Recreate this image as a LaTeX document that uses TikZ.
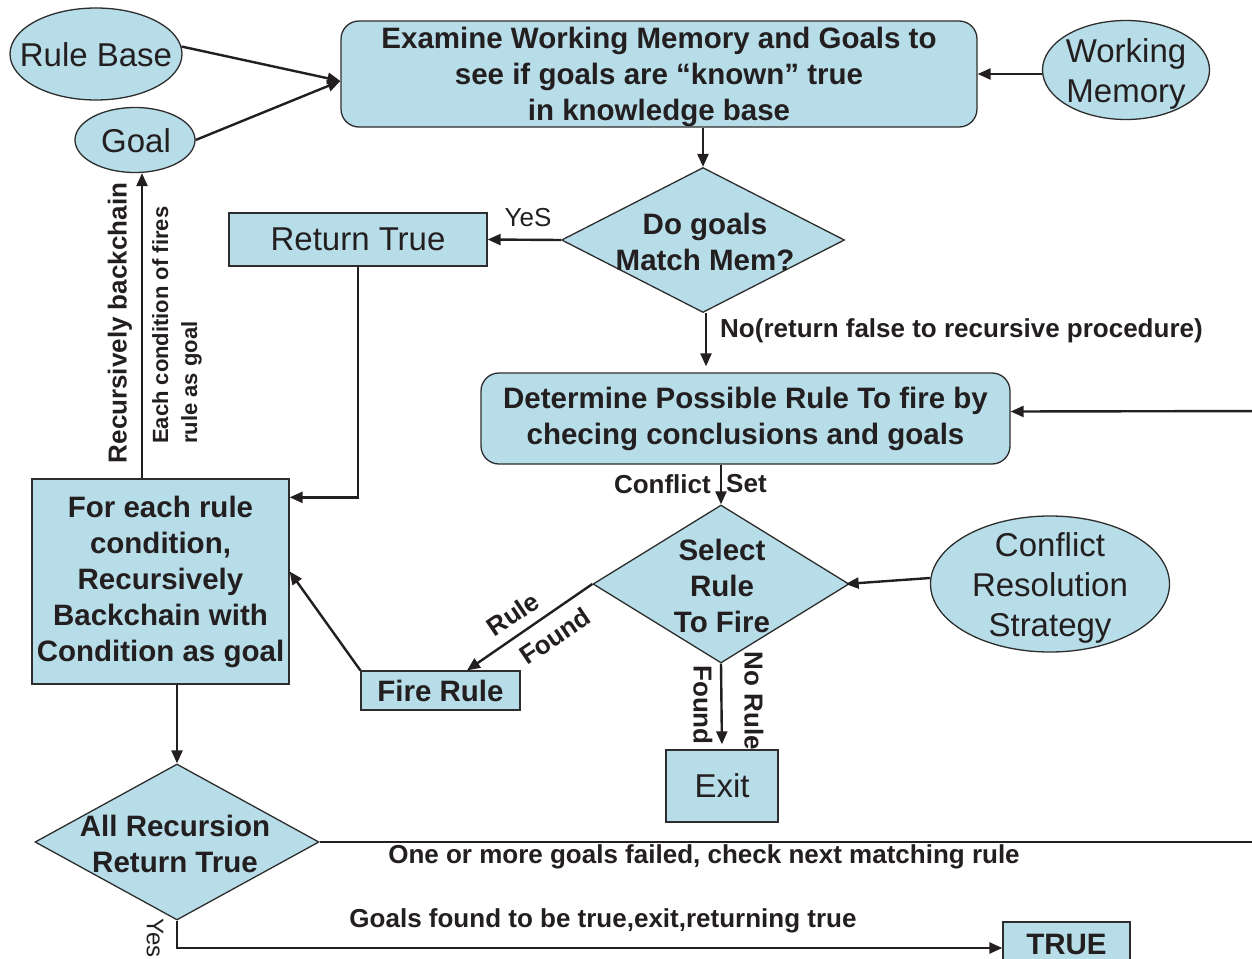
\documentclass[tikz,border=0pt]{standalone}
\usepackage{fontspec}
\setmainfont{Liberation Sans}
\usetikzlibrary{shapes.geometric,arrows.meta}
\definecolor{boxfill}{RGB}{183,221,232}
\definecolor{ink}{RGB}{35,31,32}
\definecolor{edge}{RGB}{45,45,45}
\newcommand\txtbig{\fontsize{33}{40}\selectfont}
\newcommand\txtbold{\fontsize{29.5}{36}\selectfont\bfseries}
\newcommand\txtlabel{\fontsize{26}{30}\selectfont\bfseries}
\newcommand\txtplain{\fontsize{26}{30}\selectfont}
\tikzset{
  box/.style={draw=edge, fill=boxfill, line width=1.3pt, inner sep=0pt, text=ink, align=center},
  oval/.style={ellipse, draw=edge, fill=boxfill, line width=1.3pt, inner sep=0pt},
  rhomb/.style={diamond, draw=edge, fill=boxfill, line width=1.3pt, inner sep=0pt},
  txt/.style={text=ink, inner sep=0pt, align=center},
  arr/.style={draw=ink, line width=2.4pt, -{Triangle[length=13pt,width=11pt]}},
  plainline/.style={draw=ink, line width=1.6pt},
}
\begin{document}
\begin{tikzpicture}[x=1pt,y=-1pt]
\clip (0,0) rectangle (1252,958);
\fill[white] (0,0) rectangle (1252,958);

% ---- top row
\node[oval, minimum width=172pt, minimum height=92pt] (rb) at (96,54) {};
\node[txt, font=\txtbig] (rbt) at (96,55) {Rule Base};
\node[oval, minimum width=120pt, minimum height=65pt] (goal) at (135,140) {};
\node[txt, font=\txtbig] (goalt) at (136,141) {Goal};
\node[box, rounded corners=18pt, minimum width=636pt, minimum height=106pt,
      font=\txtbold, text depth=0pt] (exam) at (659,74)
      {Examine Working Memory and Goals to\\see if goals are “known” true\\in knowledge base};
\node[oval, minimum width=167pt, minimum height=99pt] (wm) at (1126,70) {};
\node[txt, font=\txtbig] (wmt) at (1126,74) {Working\\Memory};

% ---- first decision
\node[rhomb, minimum width=283pt, minimum height=145pt] (d1) at (703,240) {};
\node[txt, font=\txtbold] (d1t) at (705,242) {Do goals\\Match Mem?};
\node[box, minimum width=258pt, minimum height=53pt, font=\txtbig] (rt) at (358,239.5) {Return True};

% ---- rule selection
\node[box, rounded corners=18pt, minimum width=529pt, minimum height=91pt, font=\txtbold] (det) at (745.5,418.5)
      {Determine Possible Rule To fire by\\checing conclusions and goals};
\node[rhomb, minimum width=256pt, minimum height=158pt] (d2) at (721,584) {};
\node[txt, font=\txtbold] (d2t) at (722,586) {Select\\Rule\\To Fire};
\node[oval, minimum width=239pt, minimum height=136pt] (crs) at (1050,584) {};
\node[txt, font=\txtbig] (crst) at (1050,588) {Conflict\\Resolution\\Strategy};
\node[box, minimum width=159pt, minimum height=39pt, font=\txtbold] (fire) at (440.5,690.5) {Fire Rule};
\node[box, minimum width=112pt, minimum height=72pt, font=\txtbig] (exit) at (722,786) {Exit};
\node[box, minimum width=257pt, minimum height=205pt, font=\txtbold] (for) at (160.5,581.5)
      {For each rule\\condition,\\Recursively\\Backchain with\\Condition as goal};

% ---- final decision
\node[rhomb, minimum width=284pt, minimum height=156pt] (d3) at (177,842) {};
\node[txt, font=\txtbold] (d3t) at (175,844) {All Recursion\\Return True};
\node[box, minimum width=127pt, minimum height=52pt, font=\txtbold] (true) at (1066.5,948) {};
\node[txt, font=\txtbold] (truet) at (1066.5,944) {TRUE};

% ---- connectors
\coordinate (examIn) at ([yshift=-7pt]exam.west);
\draw[arr] (rb.5) -- (examIn);
\draw[arr] (goal.east) -- (examIn);
\draw[arr] (wm.west |- exam.east) -- (exam.east);
\draw[arr] (d1.north |- exam.south) -- (d1.north);
\draw[arr] (d1.west) -- (rt.east);
\coordinate (d1out) at ([xshift=3pt]d1.south);
\coordinate (detIn) at ([yshift=7pt]det.east);
\draw[arr, shorten >=6pt] (d1out) -- (d1out |- det.north);
\draw[arr] (d2.north |- det.south) -- (d2.north);
\draw[arr] ([yshift=6pt]crs.west) -- ([xshift=-4pt]d2.east);
\draw[arr] (d2.west) -- ([xshift=26.5pt]fire.north);
\draw[arr] (fire.north west) -- ([yshift=10pt]for.east);
\draw[arr, shorten >=5pt] (d2.south) -- (exit.north);
\draw[arr] (rt.south) |- ([yshift=-19pt]for.north east);
\coordinate (goalIn) at ([xshift=7pt]goal.south);
\draw[arr] (goalIn |- for.north) -- (goalIn);
\draw[arr] (d3.north |- for.south) -- (d3.north);
\draw[plainline] (d3.east) -- ++(960,0) |- (detIn);
\draw[arr] (1280,411) -- (detIn);
\draw[arr] (d3.south) |- (true.west);

% ---- connector labels
\node[txt, font=\txtplain] (lyes1) at (528,218) {YeS};
\node[txt, font=\txtlabel, anchor=west] (lno) at (720,331) {No(return false to recursive procedure)};
\node[txt, font=\txtlabel, anchor=east] (lconf) at (711,484) {Conflict};
\node[txt, font=\txtlabel, anchor=west] (lset) at (726,484) {Set};
\node[txt, font=\txtlabel, rotate=34] (lrule) at (513,614) {Rule};
\node[txt, font=\txtlabel, rotate=34] (lfound) at (555,636) {Found};
\node[txt, font=\txtlabel, rotate=-90] (lfound2) at (703,705) {Found};
\node[txt, font=\txtlabel, rotate=-90] (lnorule) at (754,701) {No Rule};
\node[txt, font=\txtlabel, rotate=90] (lrec) at (120,323) {Recursively backchain};
\node[txt, font={\fontsize{22}{29}\selectfont\bfseries}, rotate=90, anchor=west, align=left] (leach) at (177,444)
      {Each condition of fires\\rule as goal};
\node[txt, font=\txtlabel] (lfail) at (704,857) {One or more goals failed, check next matching rule};
\node[txt, font=\txtlabel] (lgoals) at (603,921) {Goals found to be true,exit,returning true};
\node[txt, font={\fontsize{24}{28}\selectfont}, rotate=-90] (lyes2) at (155,938) {Yes};
\end{tikzpicture}
\end{document}
